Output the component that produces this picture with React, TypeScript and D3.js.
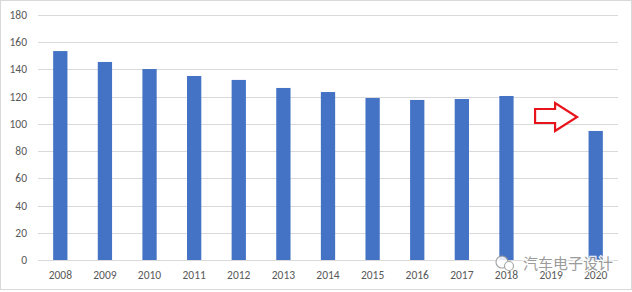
import React from "react";
import * as d3 from "d3";

const years = ["2008","2009","2010","2011","2012","2013","2014","2015","2016","2017","2018","2019","2020"];
const values: (number | null)[] = [153.5,145.5,140.3,135.2,132.3,126.4,123.4,119,117.6,118.3,120.5,null,94.8];
const yTicks = [0,20,40,60,80,100,120,140,160,180];
const watermark = "汽车电子设计";

const W = 632, H = 292;
const left = 38, right = 618, top = 15, bottom = 260;

export default function App() {
  const x = d3.scaleBand<string>().domain(years).range([left, right]).paddingInner(0.68).paddingOuter(0.34);
  const y = d3.scaleLinear().domain([0, 180]).range([bottom, top]);
  const font = "Calibri, Carlito, 'Liberation Sans', Arial, sans-serif";
  const ax = x("2019")! + x.bandwidth() / 2;
  const arrow = [
    [ax - 16, 109], [ax + 4, 109], [ax + 4, 103], [ax + 26, 117],
    [ax + 4, 131], [ax + 4, 123], [ax - 16, 123]
  ];
  return (
    <svg width={W} height={H} style={{ position: "absolute", left: 0, top: 0, background: "#fff" }}>
      <rect x={0.5} y={0.5} width={W - 1} height={H - 3} fill="#fff" stroke="#d9d9d9" />
      {yTicks.map(t => (
        <g key={t}>
          <line x1={left} x2={right} y1={Math.round(y(t)) + 0.5} y2={Math.round(y(t)) + 0.5} stroke="#d9d9d9" />
          <text x={27} y={y(t)} dy="0.35em" textAnchor="end" fontSize={11.5} fill="#595959" fontFamily={font}>{t}</text>
        </g>
      ))}
      {years.map((yr, i) => values[i] == null ? null : (
        <rect key={yr} x={x(yr)!} y={y(values[i] as number)} width={x.bandwidth()} height={y(0) - y(values[i] as number)} fill="#4472c4" />
      ))}
      {years.map(yr => (
        <text key={yr} x={x(yr)! + x.bandwidth() / 2} y={275} dy="0.35em" textAnchor="middle" fontSize={11.5} fill="#595959" fontFamily={font}>{yr}</text>
      ))}
      <polygon points={arrow.map(p => p.join(",")).join(" ")} fill="#fff" stroke="#e8141c" strokeWidth={2.2} />
      <g opacity={0.85}>
        <circle cx={502} cy={262} r={6} fill="#fff" stroke="#9a9a9a" strokeWidth={1.2} />
        <circle cx={509} cy={266} r={4.5} fill="#fff" stroke="#9a9a9a" strokeWidth={1.2} />
        <text x={523} y={264} dy="0.35em" fontSize={15} fill="#8a8a8a" stroke="#fff" strokeWidth={2.5} paintOrder="stroke" fontFamily="'Noto Sans CJK SC', sans-serif">{watermark}</text>
      </g>
    </svg>
  );
}
